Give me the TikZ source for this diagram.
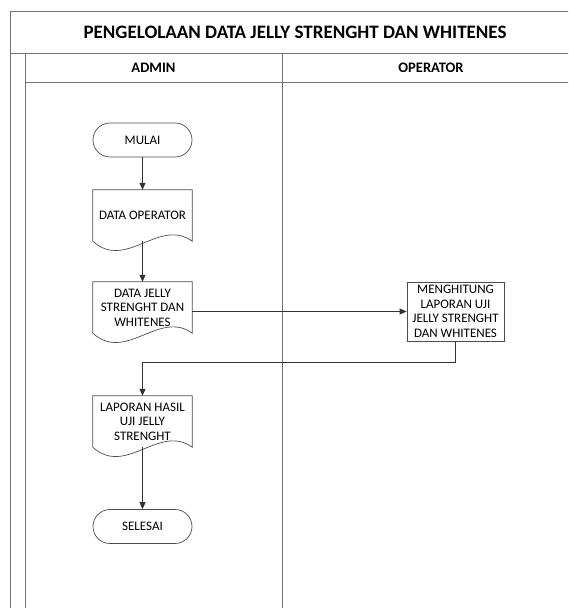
\documentclass[tikz,border=0pt]{standalone}
\usepackage{fontspec}
\setmainfont{Carlito}
\usetikzlibrary{arrows.meta,positioning}

\begin{document}
\begin{tikzpicture}[x=1pt,y=1pt]
%------------------------------------------------------------------------------------------------
% Styles

    \tikzset{lane/.style={draw=black!55, line width=0.9pt},
        body/.style={font=\fontsize{13}{14.5}\selectfont, align=center, inner sep=1pt},
        term/.style={body, draw=black!70, line width=0.7pt, rounded corners=17pt,
            minimum width=99pt, minimum height=34pt},
        docu/.style={body, minimum width=99pt, minimum height=51pt},
        proc/.style={body, draw=black!70, line width=0.7pt,
            minimum width=97pt, minimum height=59pt},
        flow/.style={draw=black!80, line width=0.8pt, -{Triangle[length=7pt,width=6pt]}}
    }
    \clip (0,0) rectangle (568,608);
%------------------------------------------------------------------------------------------------
% Swimlane frame
    \draw[lane] (580,597) -- (10,597) -- (10,-5);
    \draw[lane] (10,555) -- (580,555);
    \draw[lane] (25,555) -- (25,-5);
    \draw[lane] (25,526) -- (580,526);
    \draw[lane] (282,555) -- (282,-5);
    \node[font=\bfseries\fontsize{19}{22}\selectfont] (title) at (295,576)
        {PENGELOLAAN DATA JELLY STRENGHT DAN WHITENES};
    \node[font=\bfseries\fontsize{14.5}{17}\selectfont] (admin) at (153.5,540.5) {ADMIN};
    \node[font=\bfseries\fontsize{14.5}{17}\selectfont] (operator) at (431,540.5) {OPERATOR};
%------------------------------------------------------------------------------------------------
% Flow
    \node[term] (mulai) at (142.5,468) {MULAI};
    \node[docu] (dataop) at (142.5,392.5) {DATA OPERATOR};
    \node[docu] (datajelly) at (142.5,300.5) {DATA JELLY\\STRENGHT DAN\\WHITENES};
    \node[proc] (hitung) at (455.5,296.5) {MENGHITUNG\\LAPORAN UJI\\JELLY STRENGHT\\DAN WHITENES};
    \node[docu] (laporan) at (142.5,186.5) {LAPORAN HASIL\\UJI JELLY\\STRENGHT};
    \node[term] (selesai) at (142.5,81.5) {SELESAI};
    % document outlines with wavy bottom
    \foreach \doc in {dataop, datajelly, laporan} {
        \draw[black!70, line width=0.7pt] (\doc.south west) -- (\doc.north west) -- (\doc.north east)
            -- (\doc.south east) .. controls +(-33,24) and +(33,-30) .. (\doc.south west);
    }

    \draw[flow] (mulai) -- (dataop);
    \draw[flow] (dataop) -- (datajelly);
    \draw[flow] (hitung.west -| datajelly.east) -- (hitung.west);
    \draw[flow] (hitung) |- ([yshift=33pt]laporan.north) -- (laporan.north);
    \draw[flow] (laporan) -- (selesai);
\end{tikzpicture}
\end{document}
